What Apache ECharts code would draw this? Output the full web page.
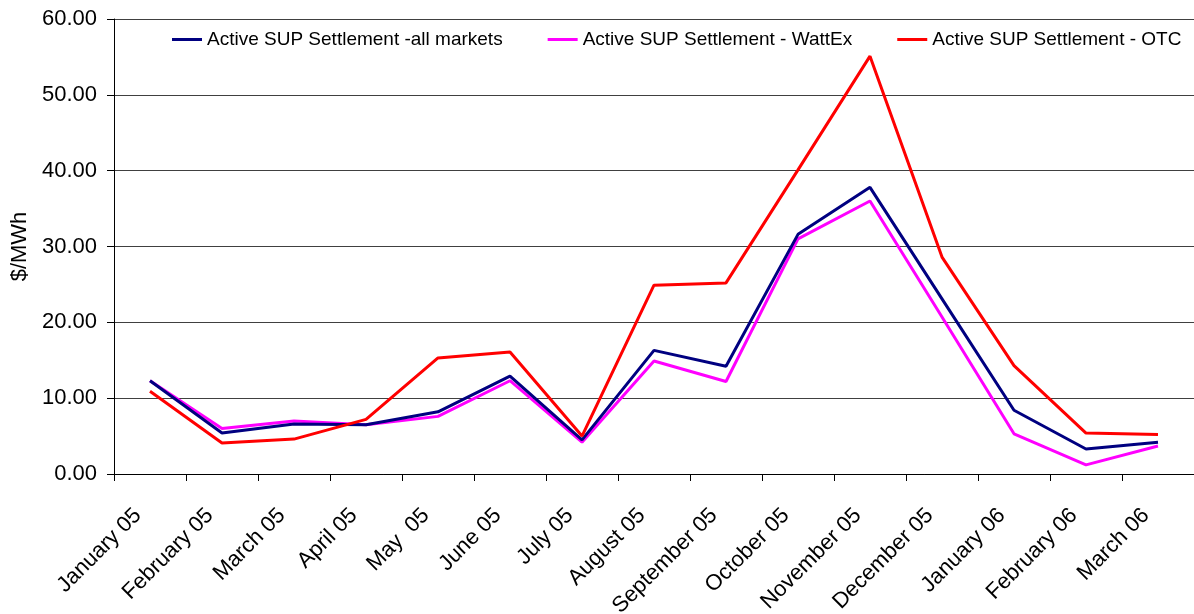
<!DOCTYPE html>
<html>
<head>
<meta charset="utf-8">
<script src="https://cdn.jsdelivr.net/npm/echarts@6/dist/echarts.min.js"></script>
<style>html,body{margin:0;padding:0;background:#fff;}#c{width:1194px;height:614px;}</style>
</head>
<body>
<div id="c"></div>
<script>
const categories = ['January 05','February 05','March 05','April 05','May  05','June 05','July 05','August 05','September 05','October 05','November 05','December 05','January 06','February 06','March 06'];
const allMarkets = [12.3, 5.4, 6.6, 6.5, 8.2, 12.9, 4.5, 16.3, 14.2, 31.6, 37.8, 23.1, 8.4, 3.3, 4.2];
const wattEx = [12.3, 6.0, 7.0, 6.5, 7.6, 12.3, 4.2, 14.9, 12.2, 31.0, 36.0, 20.7, 5.3, 1.2, 3.7];
const otc = [10.9, 4.1, 4.6, 7.2, 15.3, 16.1, 5.0, 24.9, 25.2, 40.1, 55.1, 28.6, 14.3, 5.4, 5.2];
const yTicks = [0, 10, 20, 30, 40, 50, 60];

const chart = echarts.init(document.getElementById('c'));
const font = 'Liberation Sans, Arial, sans-serif';
chart.setOption({
  animation: false,
  backgroundColor: '#fff',
  textStyle: {fontFamily: font},
  legend: {
    left: 172, top: 30, padding: 0,
    itemWidth: 30, itemHeight: 3, itemGap: 45,
    icon: 'rect',
    textStyle: {fontSize: 19, color: '#000', fontFamily: font},
    data: ['Active SUP Settlement -all markets','Active SUP Settlement - WattEx','Active SUP Settlement - OTC']
  },
  grid: {left: 114, right: 0, top: 19, bottom: 140, containLabel: false, outerBoundsMode: 'none'},
  xAxis: {
    type: 'category',
    data: categories,
    boundaryGap: true,
    axisLine: {lineStyle: {color: '#000', width: 1}},
    axisTick: {show: true, length: 7, alignWithLabel: false, lineStyle: {color: '#000'}},
    axisLabel: {rotate: 45, fontSize: 22, color: '#000', fontFamily: font, margin: 26, padding: [0, 17, 0, 0], interval: 0}
  },
  yAxis: {
    type: 'value',
    min: yTicks[0], max: yTicks[yTicks.length-1], interval: 10,
    name: '$/MWh', nameLocation: 'middle', nameGap: 82,
    nameTextStyle: {fontSize: 22, color: '#000', fontFamily: font},
    axisLine: {show: true, lineStyle: {color: '#000', width: 1}},
    axisTick: {show: true, length: 7, lineStyle: {color: '#000'}},
    axisLabel: {fontSize: 22, color: '#000', fontFamily: font, margin: 17, formatter: v => v.toFixed(2)},
    splitLine: {show: true, lineStyle: {color: '#404040', width: 1}}
  },
  series: [
    {name: 'Active SUP Settlement -all markets', type: 'line', data: allMarkets, showSymbol: false, symbol: 'none', lineStyle: {color: '#000080', width: 3}, itemStyle: {color: '#000080'}, z: 3},
    {name: 'Active SUP Settlement - WattEx', type: 'line', data: wattEx, showSymbol: false, symbol: 'none', lineStyle: {color: '#FF00FF', width: 3}, itemStyle: {color: '#FF00FF'}, z: 2},
    {name: 'Active SUP Settlement - OTC', type: 'line', data: otc, showSymbol: false, symbol: 'none', lineStyle: {color: '#FF0000', width: 3}, itemStyle: {color: '#FF0000'}, z: 4}
  ]
});
</script>
</body>
</html>
